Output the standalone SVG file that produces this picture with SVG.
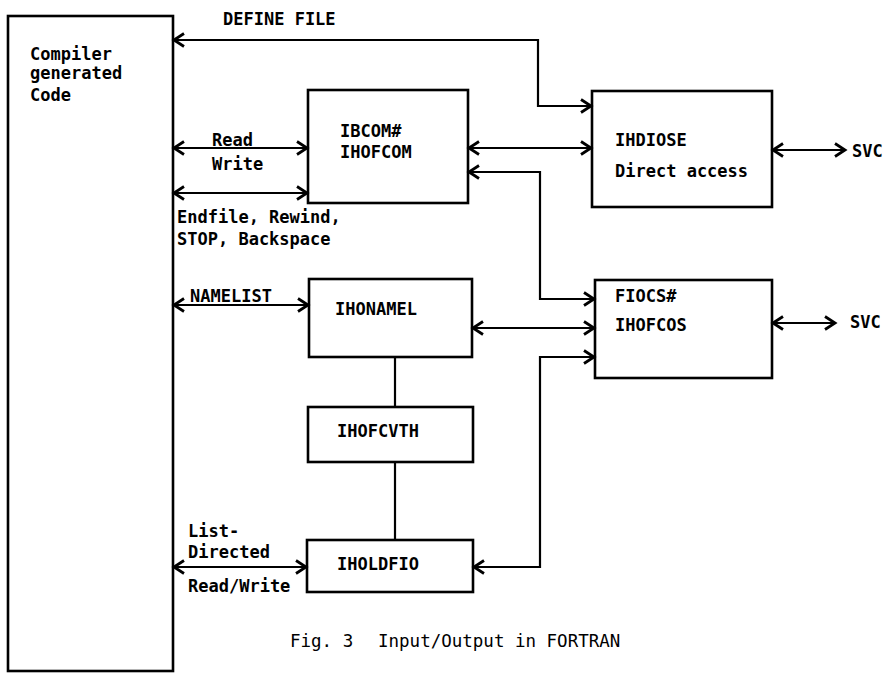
<svg xmlns="http://www.w3.org/2000/svg" width="890" height="673" viewBox="0 0 890 673">
<style>
.box{fill:#fff;stroke:#000;stroke-width:2.6}
.ln{fill:none;stroke:#000;stroke-width:2.2}
.t{font-family:"DejaVu Sans Mono","Liberation Mono",monospace;font-size:17px;font-weight:bold;fill:#000}
.cap{font-family:"DejaVu Sans Mono","Liberation Mono",monospace;font-size:17.5px;fill:#000}
</style>
<defs>
<marker id="ah" markerUnits="userSpaceOnUse" markerWidth="16" markerHeight="16" refX="12" refY="8" orient="auto-start-reverse" viewBox="0 0 16 16">
<path d="M2,1.5 L12,8 L2,14.5" fill="none" stroke="#000" stroke-width="2.8"/>
</marker>
</defs>
<rect width="890" height="673" fill="#fff"/>
<g id="compiler">
<rect class="box" x="8" y="16" width="165" height="655"/>
<text class="t" x="30" y="60">Compiler</text>
<text class="t" x="30" y="79">generated</text>
<text class="t" x="30" y="101">Code</text>
</g>
<g id="ibcom">
<rect class="box" x="308" y="90" width="160" height="113"/>
<text class="t" x="340" y="137">IBCOM#</text>
<text class="t" x="340" y="158">IHOFCOM</text>
</g>
<g id="ihdiose">
<rect class="box" x="592" y="91" width="180" height="116"/>
<text class="t" x="615" y="146">IHDIOSE</text>
<text class="t" x="615" y="177">Direct access</text>
</g>
<g id="ihonamel">
<rect class="box" x="309" y="279" width="163" height="78"/>
<text class="t" x="335" y="315">IHONAMEL</text>
</g>
<g id="fiocs">
<rect class="box" x="595" y="280" width="177" height="98"/>
<text class="t" x="615" y="302">FIOCS#</text>
<text class="t" x="615" y="331">IHOFCOS</text>
</g>
<g id="ihofcvth">
<rect class="box" x="308" y="407" width="165" height="55"/>
<text class="t" x="337" y="437">IHOFCVTH</text>
</g>
<g id="iholdfio">
<rect class="box" x="307" y="540" width="166" height="52"/>
<text class="t" x="337" y="570">IHOLDFIO</text>
</g>
<g id="connectors">
<polyline class="ln" points="174,40 538,40 538,106 591,106" marker-start="url(#ah)" marker-end="url(#ah)"/>
<line class="ln" x1="174" y1="148" x2="307" y2="148" marker-start="url(#ah)" marker-end="url(#ah)"/>
<line class="ln" x1="174" y1="193" x2="307" y2="193" marker-start="url(#ah)" marker-end="url(#ah)"/>
<line class="ln" x1="469" y1="148" x2="591" y2="148" marker-start="url(#ah)" marker-end="url(#ah)"/>
<polyline class="ln" points="469,172 540,172 540,299 594,299" marker-start="url(#ah)" marker-end="url(#ah)"/>
<line class="ln" x1="773" y1="150" x2="845" y2="150" marker-start="url(#ah)" marker-end="url(#ah)"/>
<line class="ln" x1="174" y1="305" x2="308" y2="305" marker-start="url(#ah)" marker-end="url(#ah)"/>
<line class="ln" x1="473" y1="328" x2="594" y2="328" marker-start="url(#ah)" marker-end="url(#ah)"/>
<line class="ln" x1="773" y1="323" x2="835" y2="323" marker-start="url(#ah)" marker-end="url(#ah)"/>
<polyline class="ln" points="474,567 540,567 540,357 594,357" marker-start="url(#ah)" marker-end="url(#ah)"/>
<line class="ln" x1="174" y1="567" x2="306" y2="567" marker-start="url(#ah)" marker-end="url(#ah)"/>
<line class="ln" x1="395" y1="357" x2="395" y2="407"/>
<line class="ln" x1="395" y1="462" x2="395" y2="540"/>
</g>
<g id="labels">
<text class="t" x="223" y="25">DEFINE FILE</text>
<text class="t" x="212" y="146">Read</text>
<text class="t" x="212" y="170">Write</text>
<text class="t" x="177" y="223">Endfile, Rewind,</text>
<text class="t" x="177" y="245">STOP, Backspace</text>
<text class="t" x="190" y="302">NAMELIST</text>
<text class="t" x="852" y="157">SVC</text>
<text class="t" x="850" y="328">SVC</text>
<text class="t" x="188" y="537">List-</text>
<text class="t" x="188" y="558">Directed</text>
<text class="t" x="188" y="592">Read/Write</text>
<text class="cap" x="290" y="647">Fig. 3</text>
<text class="cap" x="378" y="647">Input/Output in FORTRAN</text>
</g>
</svg>
